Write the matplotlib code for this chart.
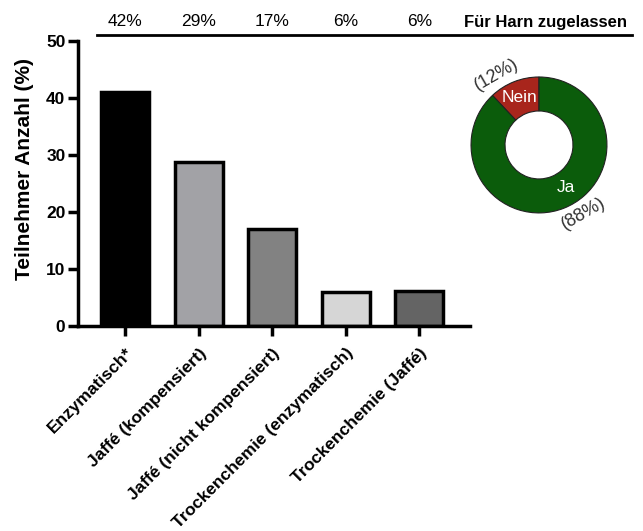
import matplotlib
matplotlib.use("Agg")
import matplotlib.pyplot as plt
from matplotlib.transforms import blended_transform_factory

plt.rcParams['font.family'] = ['Liberation Sans', 'DejaVu Sans']

# Methods and share of participants (%)
methods = ["Enzymatisch*", "Jaffé (kompensiert)", "Jaffé (nicht kompensiert)",
           "Trockenchemie (enzymatisch)", "Trockenchemie (Jaffé)"]
participants = [41.1, 28.7, 17.0, 5.9, 6.2]
urine_share = ["42%", "29%", "17%", "6%", "6%"]
bar_colors = ["#000000", "#a2a2a6", "#828282", "#d6d6d6", "#646464"]

# Approved for urine (donut)
approval_labels = ["Nein", "Ja"]
approval_values = [12, 88]
approval_colors = ["#a8251c", "#0b5c0b"]

fig = plt.figure(figsize=(6.43, 5.31), dpi=100)
ax = fig.add_axes([0.1213, 0.386, 0.6097, 0.5367])

x = list(range(len(methods)))
ax.bar(x, participants, width=0.65, color=bar_colors, edgecolor="black", linewidth=2.5)
ax.set_xlim(-0.64, 4.69)
ax.set_ylim(0, 50)
ax.set_yticks([0, 10, 20, 30, 40, 50])
ax.set_xticks(x)
ax.set_xticklabels(methods, rotation=45, ha="right", rotation_mode="anchor",
                   fontsize=12.5, fontweight="bold")
for lbl in ax.get_yticklabels():
    lbl.set_fontweight("bold")
ax.tick_params(axis="y", labelsize=12.5, width=2.5, length=7, pad=2)
ax.tick_params(axis="x", width=2.5, length=7, pad=7)
for side in ["top", "right"]:
    ax.spines[side].set_visible(False)
for side in ["left", "bottom"]:
    ax.spines[side].set_linewidth(2.5)
ax.set_ylabel("Teilnehmer Anzahl (%)", fontsize=15, fontweight="bold")
ax.yaxis.set_label_coords(-0.112, 0.55)

# Header row with the urine-approved shares
fig.add_artist(plt.Line2D([97 / 643, 632 / 643], [1 - 35 / 531, 1 - 35 / 531],
                          color="black", linewidth=2))
header_tf = blended_transform_factory(ax.transData, fig.transFigure)
for xi, txt in zip(x, urine_share):
    ax.text(xi, 1 - 22 / 531, txt, transform=header_tf,
            ha="center", va="center", fontsize=12.5)
fig.text(545 / 643, 1 - 22 / 531, "Für Harn zugelassen", ha="center", va="center",
         fontsize=12, fontweight="bold")

# Donut
pax = fig.add_axes([0.7325, 0.599, 0.2115, 0.256])
pax.pie(approval_values, colors=approval_colors, startangle=90, counterclock=True,
        wedgeprops=dict(width=0.5, edgecolor="#222222", linewidth=0.8))
pax.set_xlim(-1, 1)
pax.set_ylim(-1, 1)
pax.set_aspect("equal")
pax.axis("off")
pax.text(-0.28, 0.70, approval_labels[0], color="white", fontsize=12.5,
         ha="center", va="center")
pax.text(0.40, -0.63, approval_labels[1], color="white", fontsize=12.5,
         ha="center", va="center")
pax.text(-0.62, 1.04, f"({approval_values[0]}%)", color="#333333", fontsize=13,
         ha="center", va="center", rotation=30, clip_on=False)
pax.text(0.66, -1.01, f"({approval_values[1]}%)", color="#333333", fontsize=13,
         ha="center", va="center", rotation=30, clip_on=False)

fig.savefig("out.png", dpi=100)
